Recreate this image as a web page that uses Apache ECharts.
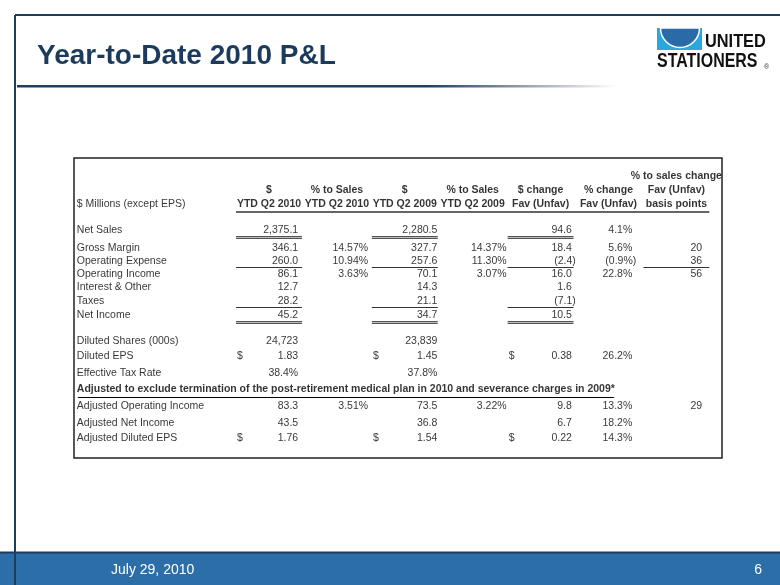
<!DOCTYPE html>
<html><head><meta charset="utf-8">
<script src="https://cdn.jsdelivr.net/npm/echarts@6/dist/echarts.min.js"></script>
<style>html,body{margin:0;padding:0;background:#fff}#c{width:780px;height:585px}</style>
</head><body><div id="c"></div>
<script>
// ---------------- DATA ----------------
const pageTitle = 'Year-to-Date 2010 P&L';
const footerDate = 'July 29, 2010';
const pageNumber = '6';
const unitLabel = '$ Millions (except EPS)';
const headerTop = ['', '', '', '', '', '', '% to sales change'];
const headerMid = ['$', '% to Sales', '$', '% to Sales', '$ change', '% change', 'Fav (Unfav)'];
const headerBot = ['YTD Q2 2010', 'YTD Q2 2010', 'YTD Q2 2009', 'YTD Q2 2009', 'Fav (Unfav)', 'Fav (Unfav)', 'basis points'];
const rowLabels = ['Net Sales', 'Gross Margin', 'Operating Expense', 'Operating Income', 'Interest & Other', 'Taxes', 'Net Income',
  'Diluted Shares (000s)', 'Diluted EPS', 'Effective Tax Rate',
  'Adjusted Operating Income', 'Adjusted Net Income', 'Adjusted Diluted EPS'];
const rowFormat = ['m', 'm', 'm', 'm', 'm', 'm', 'm', 'shares', 'eps', 'pct', 'm', 'm', 'eps'];
const ytd2010 = [2375.1, 346.1, 260.0, 86.1, 12.7, 28.2, 45.2, 24723, 1.83, 38.4, 83.3, 43.5, 1.76];
const pctSales2010 = [null, 14.57, 10.94, 3.63, null, null, null, null, null, null, 3.51, null, null];
const ytd2009 = [2280.5, 327.7, 257.6, 70.1, 14.3, 21.1, 34.7, 23839, 1.45, 37.8, 73.5, 36.8, 1.54];
const pctSales2009 = [null, 14.37, 11.30, 3.07, null, null, null, null, null, null, 3.22, null, null];
const dollarChange = [94.6, 18.4, -2.4, 16.0, 1.6, -7.1, 10.5, null, 0.38, null, 9.8, 6.7, 0.22];
const pctChange = [4.1, 5.6, -0.9, 22.8, null, null, null, null, 26.2, null, 13.3, 18.2, 14.3];
const bpsChange = [null, 20, 36, 56, null, null, null, null, null, null, 29, null, null];
const adjustedNote = 'Adjusted to exclude termination of the post-retirement medical plan in 2010 and severance charges in 2009';
const noteMark = '*';

// ---------------- LAYOUT (axis units) ----------------
const X_MIN = -1.872, X_MAX = 7.672;      // column index axis
const LABEL_X = -1.83;
const VAL_RIGHT = [0.43, 0.46, 0.48, 0.50, 0.46, 0.35, 0.38];
const DOLLAR_LEFT = -0.47;
const HEAD_POS = [1.2, 2.133, 3.07];
const HEAD_RULE = 3.6;
const ROW_POS = [4.8, 6.0, 6.867, 7.733, 8.6, 9.533, 10.467, 12.2, 13.2, 14.333, 16.533, 17.667, 18.667];
const NOTE_POS = 15.4;
const RULE_OFF = 0.42;
const FONT = "'Liberation Sans', Arial, Helvetica, sans-serif";
const BODY_SIZE = 10.5, HEAD_SIZE = 10.5;

const columns = [ytd2010, pctSales2010, ytd2009, pctSales2009, dollarChange, pctChange, bpsChange];
const colKind = ['row', 'pct2', 'row', 'pct2', 'row', 'pct1', 'int'];

function grp(v, d) {
  const s = Math.abs(v).toFixed(d);
  const parts = s.split('.');
  parts[0] = parts[0].replace(/\B(?=(\d{3})+(?!\d))/g, ',');
  return parts.join('.');
}
function fmt(v, kind, rf) {
  let s;
  if (kind === 'pct2') s = grp(v, 2) + '%';
  else if (kind === 'pct1') s = grp(v, 1) + '%';
  else if (kind === 'int') s = grp(v, 0);
  else if (rf === 'shares') s = grp(v, 0);
  else if (rf === 'eps') s = grp(v, 2);
  else if (rf === 'pct') s = grp(v, 1) + '%';
  else s = grp(v, 1);
  return v < 0 ? '(' + s + ')' : s;
}

const cells = [];
function addText(x, y, text, align, bold, dx) {
  cells.push({ value: [x, y], label: { formatter: text, align: align, fontWeight: bold ? 'bold' : 'normal', fontSize: bold ? HEAD_SIZE : BODY_SIZE, offset: [dx || 0, 0] } });
}
// headers
for (let c = 0; c < 7; c++) {
  if (headerTop[c]) addText(c + 1, HEAD_POS[0], headerTop[c], 'center', true);
  addText(c + 1, HEAD_POS[1], headerMid[c], 'center', true);
  addText(c + 1, HEAD_POS[2], headerBot[c], 'center', true);
}
addText(LABEL_X, HEAD_POS[2], unitLabel, 'left', false);
// body
rowLabels.forEach((lab, r) => {
  const y = ROW_POS[r];
  addText(LABEL_X, y, lab, 'left', false);
  columns.forEach((arr, c) => {
    const v = arr[r];
    if (v === null || v === undefined) return;
    addText(c + 1 + VAL_RIGHT[c], y, fmt(v, colKind[c], rowFormat[r]), 'right', false, v < 0 ? 4 : 0);
    if (rowFormat[r] === 'eps' && colKind[c] === 'row') addText(c + 1 + DOLLAR_LEFT, y, '$', 'left', false);
  });
});
addText(LABEL_X, NOTE_POS, adjustedNote + noteMark, 'left', true);

// rules: [x1, x2, y, kind]  kind 1 single, 2 double, 3 header
const rules = [];
rules.push([0.5, 7.5, HEAD_RULE, 3]);
[1, 3, 5].forEach(c => rules.push([c - 0.5, c + 0.5, ROW_POS[0] + RULE_OFF, 2]));
[1, 3, 5, 7].forEach(c => rules.push([c - 0.5, c + 0.5, ROW_POS[2] + RULE_OFF, 1]));
[1, 3, 5].forEach(c => rules.push([c - 0.5, c + 0.5, ROW_POS[5] + RULE_OFF, 1]));
[1, 3, 5].forEach(c => rules.push([c - 0.5, c + 0.5, ROW_POS[6] + RULE_OFF, 2]));

// note underline width measured
const mctx = document.createElement('canvas').getContext('2d');
mctx.font = 'bold ' + HEAD_SIZE + 'px ' + FONT;
const noteW = mctx.measureText(adjustedNote + noteMark).width;

const chart = echarts.init(document.getElementById('c'));
chart.setOption({
  animation: false,
  backgroundColor: '#ffffff',
  grid: { left: 74, top: 158, width: 648, height: 300, show: true, borderColor: '#222', borderWidth: 1.5, backgroundColor: 'transparent' },
  xAxis: { type: 'value', min: X_MIN, max: X_MAX, show: false },
  yAxis: { type: 'value', min: 0, max: 20, inverse: true, show: false },
  series: [
    {
      type: 'scatter', symbolSize: 0, silent: true, data: cells,
      label: { show: true, position: 'inside', verticalAlign: 'middle', color: '#000', fontSize: BODY_SIZE, fontFamily: FONT }
    },
    {
      type: 'custom', silent: true, clip: false,
      data: rules.concat([[LABEL_X, LABEL_X, NOTE_POS + 0.5, 4]]),
      encode: { x: [0, 1], y: 2 },
      renderItem: function (params, api) {
        const x1 = api.value(0), x2 = api.value(1), y = api.value(2), k = api.value(3);
        const p1 = api.coord([x1, y]);
        let p2 = api.coord([x2, y]);
        if (k === 4) p2 = [p1[0] + noteW, p1[1]];
        const ln = (dy, col, w) => ({ type: 'line', shape: { x1: p1[0] + 1, y1: Math.round(p1[1]) + dy, x2: p2[0] - 1, y2: Math.round(p1[1]) + dy }, style: { stroke: col, lineWidth: w } });
        if (k === 2) return { type: 'group', children: [ln(0.5, '#555', 1), ln(1.5, '#bbb', 1), ln(2.5, '#555', 1)] };
        if (k === 3) return ln(0, '#666', 2);
        if (k === 4) return ln(0.5, '#000', 1);
        return ln(0.5, '#333', 1);
      }
    }
  ],
  graphic: [
    // footer bar
    { type: 'rect', shape: { x: 0, y: 553, width: 780, height: 32 }, style: { fill: '#2b6ea8' }, z: 1 },
    { type: 'line', shape: { x1: 0, y1: 552.5, x2: 780, y2: 552.5 }, style: { stroke: '#1e3a5c', lineWidth: 2 }, z: 2 },
    { type: 'text', x: 111, y: 570, style: { text: footerDate, fill: '#fff', font: '14px ' + FONT, verticalAlign: 'middle' }, z: 3 },
    { type: 'text', x: 762, y: 570, style: { text: pageNumber, fill: '#fff', font: '14px ' + FONT, align: 'right', verticalAlign: 'middle' }, z: 3 },
    // frame
    { type: 'line', shape: { x1: 15, y1: 15, x2: 780, y2: 15 }, style: { stroke: '#1e3d5f', lineWidth: 2 }, z: 4 },
    { type: 'line', shape: { x1: 15, y1: 15, x2: 15, y2: 585 }, style: { stroke: '#1e3d5f', lineWidth: 2 }, z: 4 },
    // title
    { type: 'text', x: 37, y: 56, style: { text: pageTitle, fill: '#1c3b5c', font: 'bold 28px ' + FONT, verticalAlign: 'middle' }, z: 3 },
    { type: 'rect', shape: { x: 17, y: 85, width: 600, height: 2.5 },
      style: { fill: new echarts.graphic.LinearGradient(0, 0, 1, 0, [{ offset: 0, color: '#1e3d5f' }, { offset: 0.68, color: '#1e3d5f' }, { offset: 1, color: 'rgba(30,61,95,0)' }]) }, z: 3 },
    // logo
    { type: 'rect', shape: { x: 657, y: 28, width: 45, height: 22 }, style: { fill: '#29a8df' }, z: 3 },
    { type: 'sector', shape: { cx: 680, cy: 28, r: 19.5, r0: 0, startAngle: 0, endAngle: Math.PI, clockwise: true }, style: { fill: '#2a6aa6', stroke: '#fff', lineWidth: 1.5 }, z: 4 },
    { type: 'text', x: 705, y: 42, scaleX: 0.86, style: { text: 'UNITED', fill: '#111', font: 'bold 19px ' + FONT, verticalAlign: 'middle' }, z: 4 },
    { type: 'text', x: 657, y: 61.5, scaleX: 0.76, style: { text: 'STATIONERS', fill: '#111', font: 'bold 21px ' + FONT, verticalAlign: 'middle' }, z: 4 },
    { type: 'text', x: 764, y: 67, style: { text: '®', fill: '#333', font: '7px ' + FONT, verticalAlign: 'middle' }, z: 4 }
  ]
});
</script>
</body></html>
